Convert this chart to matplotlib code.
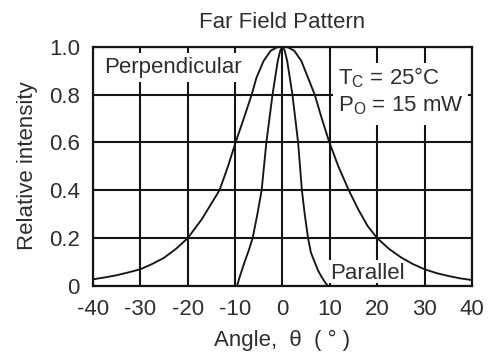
import numpy as np
import matplotlib
matplotlib.use('Agg')
import matplotlib.pyplot as plt
from matplotlib.patches import Rectangle

plt.rcParams['font.family'] = ['Liberation Sans', 'DejaVu Sans']
plt.rcParams['mathtext.fontset'] = 'custom'
plt.rcParams['mathtext.rm'] = 'Liberation Sans'

# perpendicular curve
perp_angle = [-40, -37.5, -35, -32.5, -30, -27.5, -25, -22.5, -20, -17, -15,
              -13.3, -11.5, -9.9, -8, -6.5, -5.5, -4, -2.5, -1.2, 0, 1.2, 2.5,
              4, 5.4, 6.8, 8.3, 9.9, 11.8, 14, 16, 18, 20, 22.5, 25, 27.5, 30,
              32.5, 35, 37.5, 40]
perp_intensity = [0.028, 0.036, 0.045, 0.057, 0.07, 0.092, 0.118, 0.155, 0.2,
                  0.28, 0.345, 0.4, 0.5, 0.6, 0.71, 0.8, 0.87, 0.94, 0.983,
                  0.997, 1.0, 0.997, 0.983, 0.94, 0.87, 0.8, 0.7, 0.6, 0.5,
                  0.4, 0.32, 0.25, 0.2, 0.155, 0.12, 0.092, 0.07, 0.054, 0.042,
                  0.032, 0.025]

# parallel curve
par_angle = [-9.6, -9.0, -8.0, -7.1, -6.3, -5.3, -4.4, -3.4, -2.75, -2.1, -1.0,
             -0.45, 0, 0.45, 1.0, 2.1, 2.7, 3.3, 4.1, 4.7, 5.4, 6.0, 6.8, 7.5,
             8.2, 9.0, 9.6]
par_intensity = [0.0, 0.04, 0.1, 0.15, 0.2, 0.3, 0.4, 0.6, 0.7, 0.8, 0.94,
                 0.985, 1.0, 0.985, 0.94, 0.8, 0.7, 0.6, 0.4, 0.3, 0.2, 0.14,
                 0.1, 0.065, 0.04, 0.015, 0.0]

x_ticks = [-40, -30, -20, -10, 0, 10, 20, 30, 40]
y_ticks = [0, 0.2, 0.4, 0.6, 0.8, 1.0]
y_tick_labels = ['0', '0.2', '0.4', '0.6', '0.8', '1.0']

fs = 16
ink = '#151515'
txt = '#2e2e2e'

fig = plt.figure(figsize=(4.96, 3.56), dpi=100)
ax = fig.add_axes([0.1875, 0.1966, 0.764, 0.6722])
ax.set_axisbelow(True)

ax.plot(perp_angle, perp_intensity, color=ink, lw=1.35, zorder=2)
ax.plot(par_angle, par_intensity, color=ink, lw=1.35, zorder=2)

ax.set_xlim(-40, 40)
ax.set_ylim(0, 1.0)
ax.set_xticks(x_ticks)
ax.set_xticklabels([str(v) for v in x_ticks])
ax.set_yticks(y_ticks)
ax.set_yticklabels(y_tick_labels)
ax.tick_params(length=0, pad=9.5, labelsize=fs, labelcolor=txt)
ax.grid(True, color=ink, lw=1.5)
for sp in ax.spines.values():
    sp.set_color(ink)
    sp.set_linewidth(1.6)

# white boxes behind the labels hide the grid
for (x0, x1, y0, y1) in [(-39.8, -8.6, 0.852, 0.975),
                         (10.6, 39.2, 0.673, 0.932),
                         (9.9, 26.4, 0.013, 0.108)]:
    ax.add_patch(Rectangle((x0, y0), x1 - x0, y1 - y0, facecolor='white',
                           edgecolor='none', zorder=1))

ax.text(-37.7, 0.891, 'Perpendicular', fontsize=fs, color=txt, zorder=3)
ax.text(11.7, 0.842, r'T$_\mathregular{C}$ = 25°C', fontsize=fs, color=txt, zorder=3)
ax.text(11.7, 0.729, r'P$_\mathregular{O}$ = 15 mW', fontsize=fs, color=txt, zorder=3)
ax.text(10.0, 0.029, 'Parallel', fontsize=fs, color=txt, zorder=3)

fig.text(0.5696, 0.9205, 'Far Field Pattern', fontsize=fs, color=txt,
         ha='center', va='baseline')
fig.text(0.5696, 0.0267, 'Angle,  θ  ( ° )', fontsize=fs, color=txt,
         ha='center', va='baseline')
fig.text(0.0562, 0.534, 'Relative intensity', fontsize=fs, color=txt,
         ha='center', va='center', rotation=90)

plt.savefig('out.png', dpi=100)
